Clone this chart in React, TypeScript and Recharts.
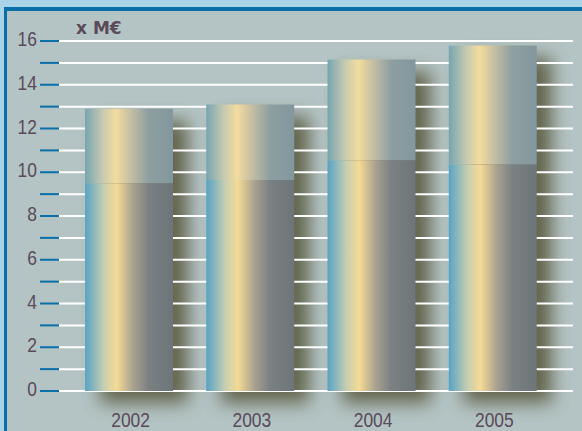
import { Bar, BarChart, CartesianGrid, XAxis, YAxis } from 'recharts';

const years = ['2002', '2003', '2004', '2005'];
const lowerPart = [9.5, 9.65, 10.55, 10.35];
const upperPart = [3.4, 3.45, 4.6, 5.45];
const yTicks = [0, 1, 2, 3, 4, 5, 6, 7, 8, 9, 10, 11, 12, 13, 14, 15, 16];

const data = years.map((year, i) => ({
  year,
  lower: lowerPart[i],
  upper: upperPart[i],
  total: lowerPart[i] + upperPart[i],
}));

const W = 582;
const H = 431;
const margin = { top: 41, right: 9, bottom: 0, left: 0 };
const textColor = '#5a4a5a';
const labelFont = '"Liberation Sans", Arial, sans-serif';

// narrow-looking digits: Liberation Sans squeezed horizontally
const CondensedText = ({ x, y, anchor, children }: any) => (
  <text
    transform={`translate(${x},${y}) scale(0.83,1)`}
    textAnchor={anchor}
    fontFamily={labelFont}
    fontSize={21}
    fill={textColor}
  >
    {children}
  </text>
);

const YTick = ({ x, y, payload }: any) => {
  if (payload.value % 2 !== 0) return null;
  return (
    <CondensedText x={x - 1} y={y + 5} anchor="end">
      {payload.value}
    </CondensedText>
  );
};

const XTick = ({ x, payload }: any) => (
  <CondensedText x={x + 2} y={427} anchor="middle">
    {payload.value}
  </CondensedText>
);

const ShadowShape = ({ x, y, width, height }: any) => (
  <rect x={x + 15} y={y + 12} width={width} height={height} fill="#4f4d2e" opacity={0.8} filter="url(#barShadow)" />
);

export default function App() {
  return (
    <div style={{ position: 'absolute', left: 0, top: 0, width: W, height: H, background: '#a9d3e6', overflow: 'hidden' }}>
      <svg width={0} height={0} style={{ position: 'absolute' }}>
        <defs>
          <linearGradient id="gLow" x1="0" y1="0" x2="1" y2="0">
            <stop offset="0%" stopColor="#58a3c5" />
            <stop offset="22%" stopColor="#c9cfb0" />
            <stop offset="36%" stopColor="#f5da95" />
            <stop offset="55%" stopColor="#a8a190" />
            <stop offset="72%" stopColor="#7b8183" />
            <stop offset="100%" stopColor="#6c7579" />
          </linearGradient>
          <linearGradient id="gHigh" x1="0" y1="0" x2="1" y2="0">
            <stop offset="0%" stopColor="#77a5b1" />
            <stop offset="20%" stopColor="#c6cab0" />
            <stop offset="35%" stopColor="#f3dc9d" />
            <stop offset="52%" stopColor="#c5bea4" />
            <stop offset="72%" stopColor="#8e9fa1" />
            <stop offset="100%" stopColor="#82979e" />
          </linearGradient>
          <filter id="barShadow" x="-60%" y="-30%" width="220%" height="160%">
            <feGaussianBlur stdDeviation="9" />
          </filter>
        </defs>
      </svg>
      <div
        style={{
          position: 'absolute',
          left: 4,
          top: 7,
          right: 0,
          bottom: 0,
          background: '#b4c4c5',
          borderLeft: '3px solid #0a6ea8',
          borderTop: '4px solid #0a6ea8',
        }}
      />
      <div style={{ position: 'absolute', left: 0, top: 0 }}>
        <BarChart width={W} height={H} data={data} margin={margin}>
          <XAxis dataKey="year" height={40} padding={{ left: 9, right: 20 }} tick={false} axisLine={false} tickLine={false} />
          <YAxis domain={[0, 16]} ticks={yTicks} width={59} tick={false} axisLine={false} tickLine={false} />
          <Bar dataKey="total" barSize={88} shape={<ShadowShape />} isAnimationActive={false} />
        </BarChart>
      </div>
      <div style={{ position: 'absolute', left: 0, top: 0 }}>
        <BarChart width={W} height={H} data={data} margin={margin}>
          <CartesianGrid vertical={false} stroke="#ffffff" strokeWidth={2} strokeOpacity={1} />
          <XAxis dataKey="year" height={40} padding={{ left: 9, right: 20 }} tick={<XTick />} axisLine={false} tickLine={false} interval={0} />
          <YAxis
            domain={[0, 16]}
            ticks={yTicks}
            interval={0}
            width={59}
            axisLine={false}
            tickSize={19}
            tickLine={{ stroke: '#0a6ea8', strokeWidth: 2 }}
            tick={<YTick />}
          />
          <Bar dataKey="lower" stackId="a" barSize={88} fill="url(#gLow)" isAnimationActive={false} />
          <Bar dataKey="upper" stackId="a" barSize={88} fill="url(#gHigh)" isAnimationActive={false} />
        </BarChart>
      </div>
      <div
        style={{
          position: 'absolute',
          left: 76,
          top: 17,
          fontFamily: '"DejaVu Sans", sans-serif',
          fontWeight: 'bold',
          fontSize: 17,
          color: textColor,
          lineHeight: '22px',
          whiteSpace: 'nowrap',
        }}
      >
        x M€
      </div>
    </div>
  );
}
